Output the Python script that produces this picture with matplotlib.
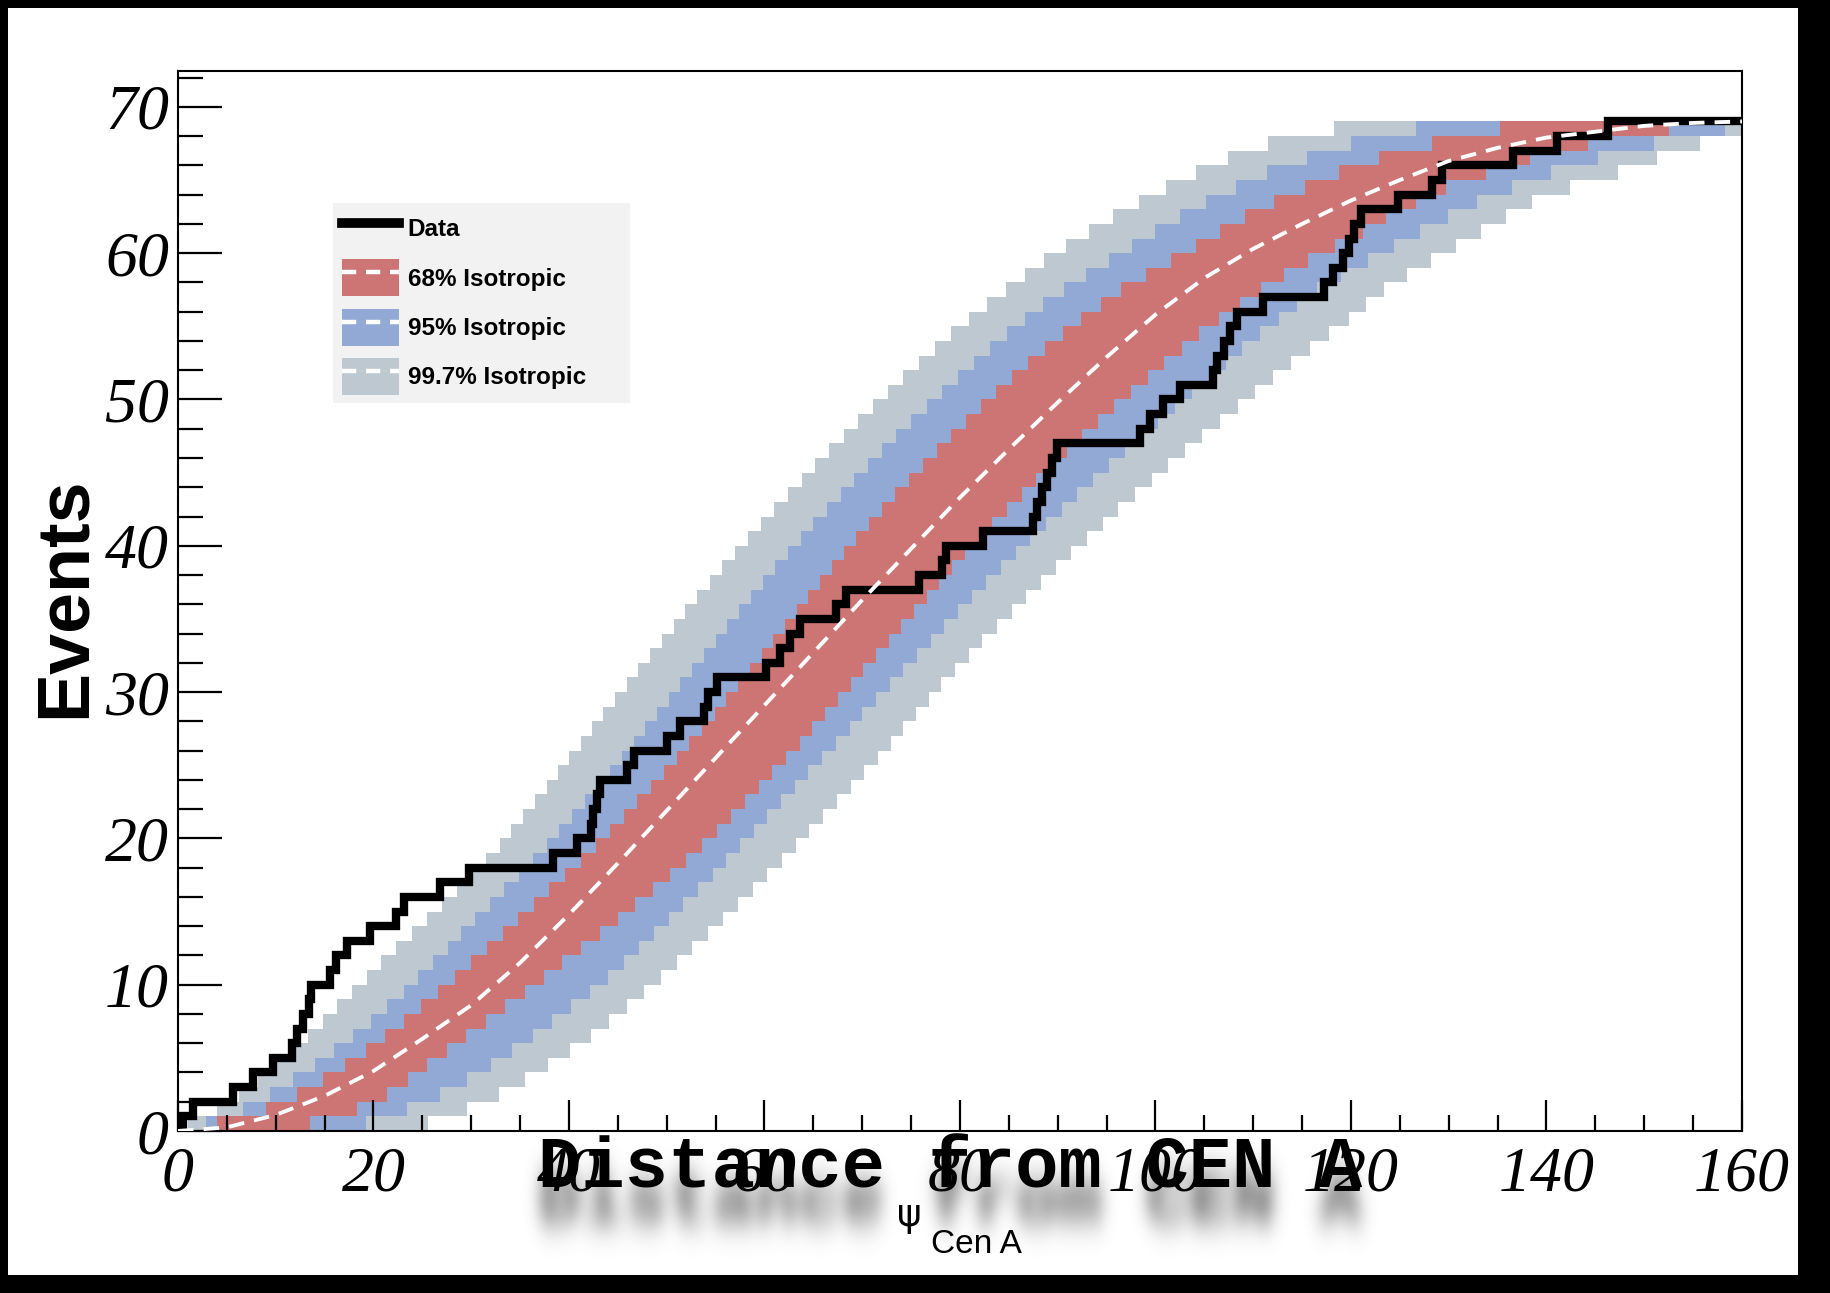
import numpy as np
import matplotlib
matplotlib.use("Agg")
import matplotlib.pyplot as plt
from matplotlib.patches import Patch, Rectangle
from matplotlib.lines import Line2D
from matplotlib.ticker import MultipleLocator

# angular distance (deg) of each of the 69 events to Cen A, sorted
event_psi = [0.5, 1.5, 5.6, 7.7, 9.7, 11.7, 12.2, 12.8, 13.4, 13.6,
             15.5, 16.2, 17.3, 19.6, 22.3, 23.1, 26.8, 29.8, 38.4, 40.8,
             42.2, 42.5, 42.9, 43.2, 45.9, 46.6, 50.0, 51.4, 53.8, 54.2,
             55.1, 60.2, 61.6, 62.6, 63.6, 67.3, 68.3, 75.8, 78.2, 78.6,
             82.4, 87.5, 87.9, 88.4, 88.9, 89.4, 89.9, 98.4, 99.4, 100.8,
             102.5, 105.9, 106.3, 107.0, 107.6, 108.3, 111.0, 117.2, 118.2, 119.2,
             119.8, 120.3, 121.0, 124.8, 128.3, 129.3, 136.6, 141.1, 146.3]

# isotropic median, cumulative events vs psi
median_psi = list(range(0, 161, 5))
median_n = [0, 0.25, 1.1, 2.4, 4.1, 6.3, 8.6, 11.5, 14.8, 18.3, 21.9,
            25.5, 29.1, 32.7, 36.3, 39.8, 43.3, 46.6, 49.8, 52.9, 55.8,
            58.3, 60.3, 62.0, 63.6, 65.0, 66.3, 67.2, 67.9, 68.3, 68.7,
            68.9, 69.0]

# band edges: psi where the edge reaches 1, 2, 3, ... events
band68_hi = [4.0, 9.0, 12.2, 14.8, 17.1, 19.2, 21.2, 23.1, 24.9, 26.6,
             28.3, 30.0, 31.6, 33.2, 34.8, 36.4, 38.0, 39.6, 41.2, 42.8,
             44.2, 45.6, 47.0, 48.4, 49.7, 51.0, 52.3, 53.6, 54.9, 56.1,
             57.3, 58.5, 59.7, 60.9, 62.1, 63.3, 64.5, 65.7, 66.9, 68.1,
             69.4, 70.7, 72.0, 73.4, 74.8, 76.2, 77.6, 79.1, 80.6, 82.1,
             83.7, 85.3, 87.0, 88.7, 90.5, 92.4, 94.4, 96.5, 99.0, 101.6,
             104.1, 106.6, 109.2, 112.1, 115.3, 118.8, 122.9, 128.3, 135.2]
band68_lo = [13.5, 18.3, 21.4, 23.5, 25.5, 27.5, 29.5, 31.5, 33.5, 35.5,
             37.4, 39.3, 41.2, 43.2, 45.0, 46.8, 48.6, 50.3, 52.0, 53.6,
             55.1, 56.6, 58.0, 59.4, 60.8, 62.2, 63.6, 64.9, 66.2, 67.5,
             68.8, 70.1, 71.4, 72.7, 74.0, 75.3, 76.6, 77.9, 79.2, 80.5,
             81.9, 83.3, 84.8, 86.3, 87.8, 89.3, 90.9, 92.5, 94.1, 95.8,
             97.5, 99.2, 100.9, 102.7, 104.5, 106.5, 108.6, 110.8, 113.1, 115.6,
             118.4, 121.2, 123.6, 126.6, 129.7, 133.8, 138.3, 144.2, 152.5]
band95_hi = [2.9, 6.6, 9.4, 11.8, 14.0, 16.0, 17.9, 19.7, 21.4, 23.1,
             24.6, 26.1, 27.6, 29.0, 30.4, 31.9, 33.4, 34.9, 36.3, 37.7,
             39.0, 40.3, 41.6, 42.9, 44.2, 45.4, 46.6, 47.8, 49.0, 50.2,
             51.4, 52.6, 53.8, 55.0, 56.2, 57.4, 58.6, 59.8, 61.1, 62.4,
             63.7, 65.0, 66.4, 67.8, 69.2, 70.6, 72.0, 73.5, 75.0, 76.6,
             78.2, 79.8, 81.4, 83.1, 84.8, 86.6, 88.5, 90.6, 92.9, 95.2,
             97.6, 100.0, 102.5, 105.2, 108.2, 111.4, 115.5, 120.0, 126.6]
band95_lo = [19.2, 23.4, 26.8, 29.6, 32.0, 34.2, 36.3, 38.3, 40.2, 42.1,
             44.0, 45.6, 47.2, 48.7, 50.2, 51.7, 53.2, 54.7, 56.1, 57.5,
             58.9, 60.3, 61.7, 63.1, 64.5, 65.9, 67.3, 68.7, 70.0, 71.4,
             72.8, 74.2, 75.6, 77.0, 78.4, 79.8, 81.2, 82.7, 84.2, 85.7,
             87.2, 88.8, 90.4, 92.0, 93.6, 95.2, 96.9, 98.6, 100.3, 102.0,
             103.7, 105.5, 107.2, 108.9, 110.7, 112.6, 114.5, 116.5, 119.0, 121.7,
             124.4, 127.1, 129.9, 132.9, 136.5, 140.5, 145.3, 151.0, 158.3]
band997_hi = [1.0, 4.0, 6.2, 8.2, 10.0, 11.7, 13.3, 14.8, 16.3, 17.8,
              19.3, 20.8, 22.3, 23.9, 25.5, 27.0, 28.5, 30.0, 31.5, 32.9,
              34.1, 35.3, 36.5, 37.7, 38.9, 40.0, 41.2, 42.4, 43.5, 44.7,
              45.9, 47.1, 48.3, 49.5, 50.7, 51.9, 53.1, 54.4, 55.7, 57.0,
              58.3, 59.6, 61.0, 62.4, 63.8, 65.2, 66.6, 68.1, 69.6, 71.1,
              72.6, 74.2, 75.8, 77.4, 79.1, 80.9, 82.8, 84.7, 86.6, 88.6,
              90.8, 93.2, 95.7, 98.3, 101.1, 104.1, 107.4, 111.5, 118.3]
band997_lo = [25.6, 29.6, 32.8, 35.5, 37.9, 40.1, 42.2, 44.1, 45.9, 47.7,
              49.4, 51.0, 52.6, 54.2, 55.8, 57.3, 58.8, 60.3, 61.8, 63.2,
              64.6, 66.0, 67.4, 68.8, 70.2, 71.6, 72.9, 74.2, 75.5, 76.8,
              78.1, 79.5, 80.9, 82.3, 83.8, 85.3, 86.8, 88.3, 89.8, 91.4,
              93.0, 94.6, 96.2, 97.9, 99.6, 101.3, 103.0, 104.8, 106.6, 108.4,
              110.2, 112.0, 113.9, 115.8, 117.8, 119.8, 121.5, 123.4, 125.7, 128.2,
              130.7, 133.3, 135.9, 138.5, 142.4, 147.3, 151.3, 155.7]

x_ticks = [0, 20, 40, 60, 80, 100, 120, 140, 160]
y_ticks = [0, 10, 20, 30, 40, 50, 60, 70]
legend_labels = ["Data", "68% Isotropic", "95% Isotropic", "99.7% Isotropic"]

RED = "#cd7474"
BLUE = "#92a9d5"
GREY = "#bdc8d0"

W, H = 1831, 1293


def staircase(steps, x):
    # number of steps passed at each x
    return np.searchsorted(np.asarray(steps), x, side="right")


def soft_shadow(fig, x, y, s, **kw):
    # blurred copy of a text, rendered off-screen and pasted under the figure
    tmp = plt.figure(figsize=fig.get_size_inches(), dpi=fig.dpi)
    tmp.text(x, y, s, **kw)
    tmp.canvas.draw()
    ink = 1 - np.asarray(tmp.canvas.buffer_rgba())[:, :, 0] / 255.0
    plt.close(tmp)
    r = np.arange(-45, 46)
    kx = np.exp(-0.5 * (r / 8.0) ** 2)
    ky = np.exp(-0.5 * (r / 15.0) ** 2)
    ink = np.apply_along_axis(np.convolve, 1, ink, kx / kx.sum(), mode="same")
    ink = np.apply_along_axis(np.convolve, 0, ink, ky / ky.sum(), mode="same")
    img = np.zeros(ink.shape + (4,))
    img[..., :3] = 0.3
    img[..., 3] = np.clip(ink * 1.0, 0, 1)
    fig.figimage(img, 0, 0, origin="upper", zorder=-1)


fig = plt.figure(figsize=(W / 100, H / 100), dpi=100)
fig.patch.set_facecolor("black")
fig.add_artist(Rectangle((8 / W, 18 / H), (1798 - 8) / W, (1285 - 18) / H,
                         transform=fig.transFigure, facecolor="white",
                         edgecolor="none", zorder=-2))

ax = fig.add_axes([178 / W, 162 / H, 1564 / W, 1060 / H])
ax.set_facecolor("white")

for hi, lo, col in [(band997_hi, band997_lo, GREY),
                    (band95_hi, band95_lo, BLUE),
                    (band68_hi, band68_lo, RED)]:
    x = np.unique(np.concatenate([[0.0, 160.0], hi, lo]))
    ax.fill_between(x, staircase(lo, x), staircase(hi, x), step="post",
                    color=col, lw=0, zorder=1)

xd = np.concatenate([[0.0], event_psi, [160.0]])
ax.step(xd, staircase(event_psi, xd), where="post", color="black", lw=6,
        solid_joinstyle="miter", zorder=4)

ax.plot(median_psi, median_n, color="white", lw=2.8, dashes=(4, 2.6), zorder=5)

ax.set_xlim(0, 160)
ax.set_ylim(0, 72.45)
tick_font = dict(fontfamily="Liberation Serif", fontstyle="italic", fontsize=46)
ax.set_xticks(x_ticks, labels=[str(v) for v in x_ticks], **tick_font)
ax.set_yticks(y_ticks, labels=[str(v) for v in y_ticks], **tick_font)
ax.xaxis.set_minor_locator(MultipleLocator(5))
ax.yaxis.set_minor_locator(MultipleLocator(2))
ax.tick_params(which="both", direction="in", width=1.6, top=False, right=False)
ax.tick_params(axis="y", which="major", length=32, pad=6.5)
ax.tick_params(axis="y", which="minor", length=18)
ax.tick_params(axis="x", which="major", length=22.5, pad=11.5)
ax.tick_params(axis="x", which="minor", length=11.5)
for sp in ax.spines.values():
    sp.set_linewidth(1.5)

# legend on a light grey box
ax.add_patch(Rectangle((155 / 1564, 728 / 1060), 297 / 1564, 200 / 1060,
                       transform=ax.transAxes, facecolor="#f2f2f2",
                       edgecolor="none", zorder=6))


def band_handle(c):
    return (Patch(facecolor=c, edgecolor="none"),
            Line2D([], [], color="white", lw=3.2, dashes=(3.2, 2.2)))


handles = [Line2D([], [], color="black", lw=7),
           band_handle(RED), band_handle(BLUE), band_handle(GREY)]
leg = ax.legend(handles, legend_labels, loc="upper left",
                bbox_to_anchor=(163.7 / 1564, 921 / 1060), frameon=False,
                prop=dict(family="Liberation Sans", weight="bold", size=17.5),
                handlelength=2.35, handleheight=1.95, handletextpad=0.37,
                labelspacing=0.52, borderpad=0, borderaxespad=0)
leg.set_zorder(7)

fig.text(65 / W, 1 - 597 / H, "Events", rotation=90, ha="center", va="center",
         fontsize=53, fontweight="bold", family="Liberation Sans")
fig.text(897 / W, 67 / H, "ψ", ha="left", va="baseline", fontsize=27,
         family="DejaVu Sans")
fig.text(931 / W, 40 / H, "Cen A", ha="left", va="baseline", fontsize=24,
         family="Liberation Sans")

title_kw = dict(ha="center", va="baseline", fontsize=52,
                family="Liberation Mono", fontweight="bold")
soft_shadow(fig, 950 / W, 0.0816 - 34 / H, "Distance from CEN A", **title_kw)
fig.text(950 / W, 0.0816, "Distance from CEN A", color="black", zorder=10,
         **title_kw)

fig.savefig("out.png", dpi=100, facecolor=fig.get_facecolor())
